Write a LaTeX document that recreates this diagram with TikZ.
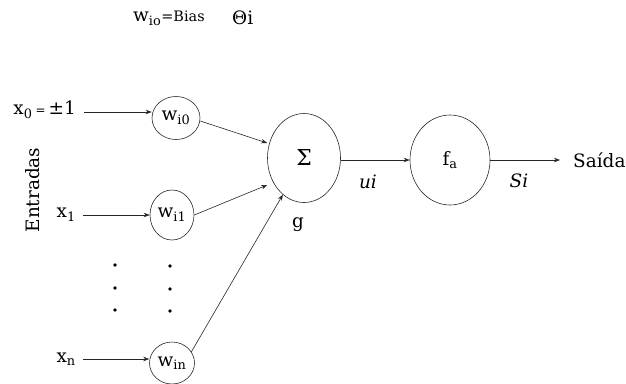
\documentclass[tikz,border=0pt]{standalone}
\usepackage{fontspec}
\setmainfont{DejaVu Serif}
\usetikzlibrary{arrows.meta,shapes.geometric}
\newcommand{\lbl}{\fontsize{18.5}{22}\selectfont}
\newcommand{\smalllbl}{\fontsize{12}{14}\selectfont}
\newcommand{\biaslbl}{\fontsize{14.5}{17}\selectfont}
\begin{document}
\begin{tikzpicture}[x=1bp,y=-1bp,
  unit/.style={draw=black!85,line width=0.6pt,ellipse,inner sep=0pt,font=\lbl},
  conn/.style={draw=black!85,line width=0.6pt,-{Stealth[length=6pt,width=4.5pt]}},
  txt/.style={inner sep=0pt,font=\lbl},
  dot/.style={circle,fill=black,inner sep=0pt,minimum size=3.8pt}]
\useasboundingbox (0,0) rectangle (626,383);

% bias note at the top
\node[txt,anchor=west] (bias) at (133,18) {w\textsubscript{io}\biaslbl=Bias};
\node[txt,anchor=west] (theta) at (232,18) {Θi};

% inputs
\node[txt,anchor=east] (x0) at (76,110) {x\textsubscript{0}\,{\smalllbl=}\,±1};
\node[txt,anchor=east] (x1) at (76,215) {x\textsubscript{1}};
\node[txt,anchor=east] (xn) at (76,359) {x\textsubscript{n}};
\node[txt,rotate=90] (ent) at (33,190) {Entradas};

% weights
\node[unit,minimum width=48bp,minimum height=43bp] (w0) at (176,118) {w\textsubscript{i0}};
\node[unit,minimum width=44bp,minimum height=50bp] (w1) at (172,215) {w\textsubscript{i1}};
\node[unit,minimum width=45bp,minimum height=42bp] (wn) at (172,363) {w\textsubscript{in}};

% ellipsis dots between the inputs
\foreach \y [count=\k] in {265,288,310} {
  \node[dot] (da\k) at (115,\y) {};
  \node[dot] (db\k) at (170,\y+1) {};
}

% summing junction and activation
\node[unit,minimum width=73bp,minimum height=89bp,font=\fontsize{22}{26}\selectfont] (sum) at (304,158) {Σ};
\node[txt] (g) at (298,225) {g};
\node[unit,minimum width=80bp,minimum height=90bp] (fa) at (450,160) {f\textsubscript{a}};
\node[txt,anchor=west] (out) at (573,160) {Saída};
\coordinate (outend) at (560,160);

% connectors
\draw[conn] (x0.east |- 0,112) ++(8,0) -- (w0.west |- 0,112);
\draw[conn] (x1.east) ++(7,0) -- (w1.west |- x1);
\draw[conn] (xn.east) ++(7,0) -- (wn.west |- xn);
\draw[conn] (w0.east) ++(0,3) -- (sum.west |- 0,143);
\draw[conn] (w1.east) -- (sum.west |- 0,185);
\draw[conn] (wn.30) -- (sum.240);
\draw[conn] (sum.east) ++(0,2) -- (fa.west |- 0,160);
\draw[conn] (fa.east) -- (outend);
\node[txt,font=\lbl\itshape] (ui) at (368,182) {ui};
\node[txt,font=\lbl\itshape] (si) at (519,181) {Si};
\end{tikzpicture}
\end{document}
